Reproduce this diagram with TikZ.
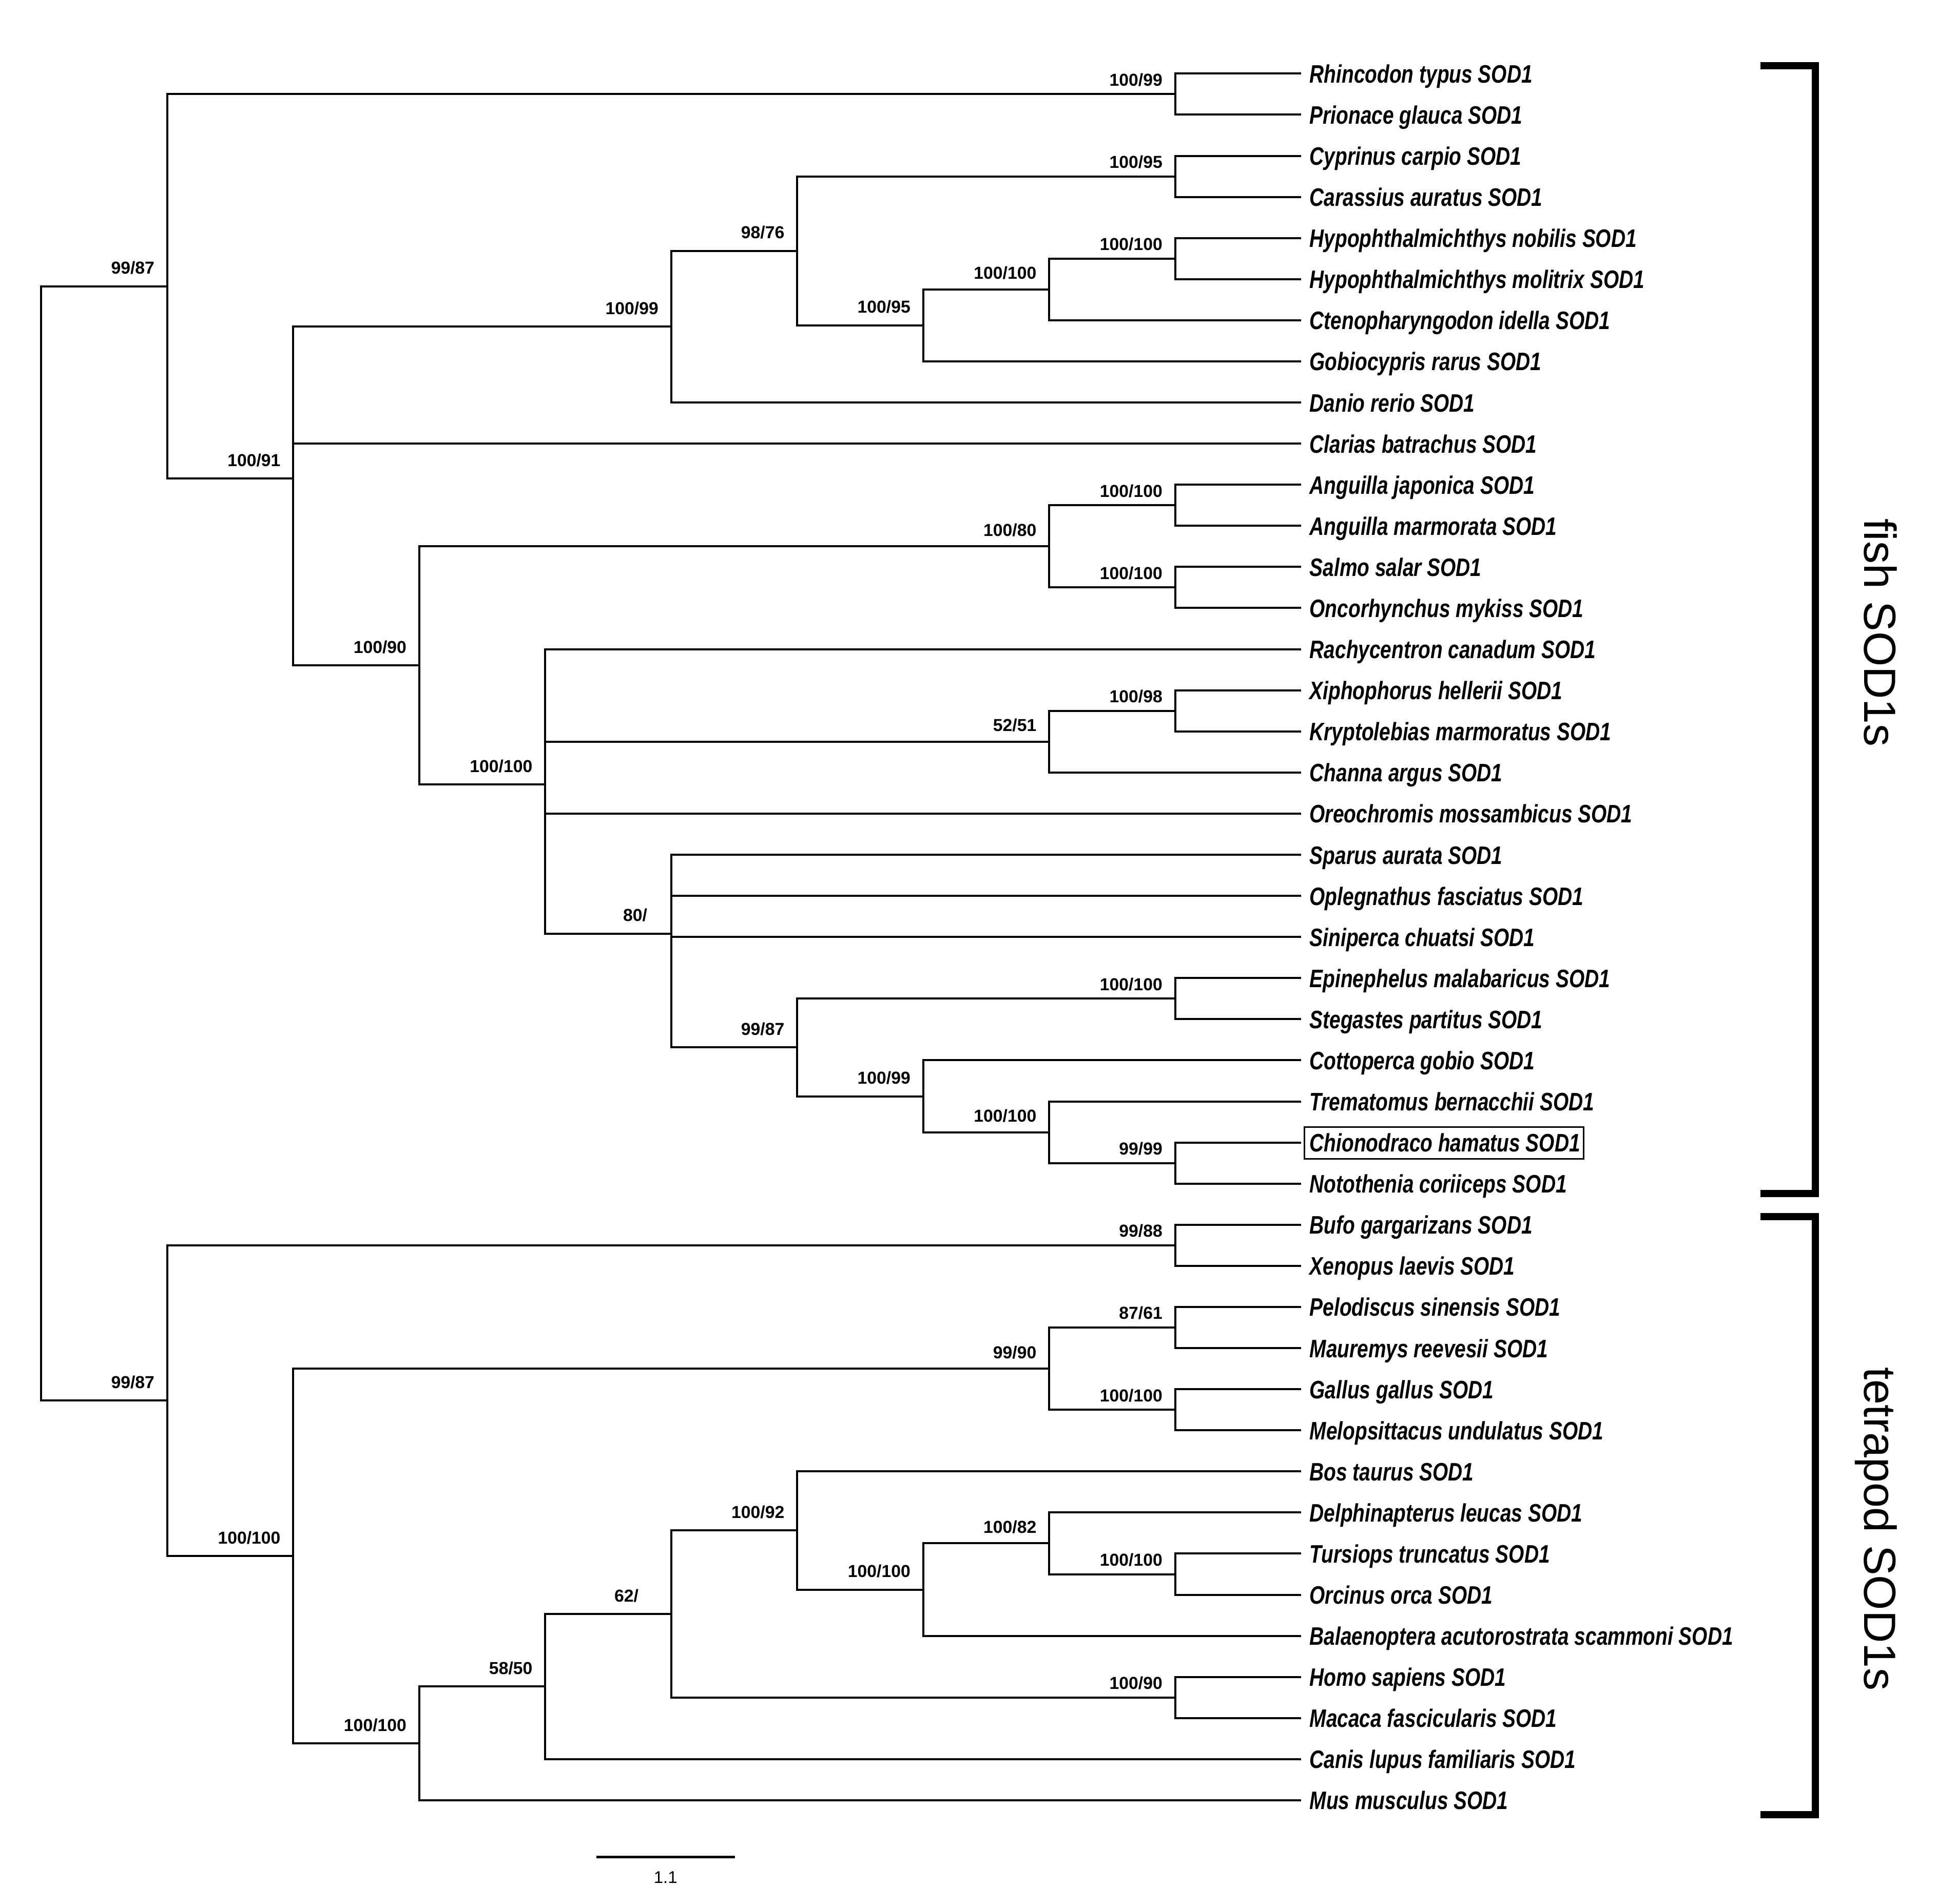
\documentclass[tikz,border=0pt]{standalone}
\usepackage{fontspec}
\setmainfont{Liberation Sans}
\newfontfamily\leaffont[FakeStretch=0.79]{Liberation Sans}
\usetikzlibrary{positioning, fit}
\tikzset{
	x=24.548mm, y=8.0085mm,
	branch/.style= {
		line width=0.4mm
	},
	leaf/.style= {
		anchor=base west, inner sep=0, xshift=1.6mm, yshift=-1.8mm,
		font={\leaffont\fontsize{14}{16}\selectfont\bfseries\itshape}
	},
	boot/.style= {
		anchor=base east, inner sep=0, xshift=-2.4mm, yshift=2.4mm,
		font={\fontsize{9.6}{11}\selectfont\bfseries}
	},
	tip/.style={yshift=-0.8mm},
	near/.style={yshift=-0.4mm},
	bracket/.style={line width=1.4mm},
	group/.style={rotate=-90, anchor=base, inner sep=0, font={\fontsize{25}{30}\selectfont}},
	frame/.style={line width=0.3mm},
	scalebar/.style={line width=0.5mm},
}
\newcommand{\leafnode}[3]{
\coordinate (#1) at (10,-#2);
\node(#1txt)[leaf] at (#1){#3 SOD1};
}
\newcommand{\bootnode}[3][]{
\node(#2boot)[boot,#1] at (#2){#3};
}

\begin{document}
\begin{tikzpicture}
	\useasboundingbox (-0.32673,0.79059) rectangle (15.198,-45.522);

	% leaves
	\leafnode{rhin}{1}{Rhincodon typus}
	\leafnode{prio}{2}{Prionace glauca}
	\leafnode{cypr}{3}{Cyprinus carpio}
	\leafnode{cara}{4}{Carassius auratus}
	\leafnode{hnob}{5}{Hypophthalmichthys nobilis}
	\leafnode{hmol}{6}{Hypophthalmichthys molitrix}
	\leafnode{cten}{7}{Ctenopharyngodon idella}
	\leafnode{gobi}{8}{Gobiocypris rarus}
	\leafnode{dani}{9}{Danio rerio}
	\leafnode{clar}{10}{Clarias batrachus}
	\leafnode{ajap}{11}{Anguilla japonica}
	\leafnode{amar}{12}{Anguilla marmorata}
	\leafnode{salm}{13}{Salmo salar}
	\leafnode{onco}{14}{Oncorhynchus mykiss}
	\leafnode{rach}{15}{Rachycentron canadum}
	\leafnode{xiph}{16}{Xiphophorus hellerii}
	\leafnode{kryp}{17}{Kryptolebias marmoratus}
	\leafnode{chan}{18}{Channa argus}
	\leafnode{oreo}{19}{Oreochromis mossambicus}
	\leafnode{spar}{20}{Sparus aurata}
	\leafnode{ople}{21}{Oplegnathus fasciatus}
	\leafnode{sini}{22}{Siniperca chuatsi}
	\leafnode{epin}{23}{Epinephelus malabaricus}
	\leafnode{steg}{24}{Stegastes partitus}
	\leafnode{cott}{25}{Cottoperca gobio}
	\leafnode{trem}{26}{Trematomus bernacchii}
	\leafnode{chio}{27}{Chionodraco hamatus}
	\leafnode{noto}{28}{Notothenia coriiceps}
	\leafnode{bufo}{29}{Bufo gargarizans}
	\leafnode{xeno}{30}{Xenopus laevis}
	\leafnode{pelo}{31}{Pelodiscus sinensis}
	\leafnode{maur}{32}{Mauremys reevesii}
	\leafnode{gall}{33}{Gallus gallus}
	\leafnode{melo}{34}{Melopsittacus undulatus}
	\leafnode{bost}{35}{Bos taurus}
	\leafnode{delp}{36}{Delphinapterus leucas}
	\leafnode{turs}{37}{Tursiops truncatus}
	\leafnode{orci}{38}{Orcinus orca}
	\leafnode{bala}{39}{Balaenoptera acutorostrata scammoni}
	\leafnode{homo}{40}{Homo sapiens}
	\leafnode{maca}{41}{Macaca fascicularis}
	\leafnode{cani}{42}{Canis lupus familiaris}
	\leafnode{musm}{43}{Mus musculus}

	\draw[frame] ([xshift=-1mm,yshift=-1.4mm]chiotxt.base west) rectangle ([xshift=0.6mm,yshift=1.2mm]chiotxt.north east);

	% internal nodes
	\coordinate (sharks) at (9,-1.5);
	\coordinate (carp) at (9,-3.5);
	\coordinate (hypo) at (9,-5.5);
	\coordinate (hypoct) at (8,-6.25);
	\coordinate (hypogo) at (7,-7.125);
	\coordinate (cyprini) at (6,-5.3125);
	\coordinate (cyprinif) at (5,-7.15625);
	\coordinate (eel) at (9,-11.5);
	\coordinate (salmon) at (9,-13.5);
	\coordinate (eelsalmon) at (8,-12.5);
	\coordinate (xipkry) at (9,-16.5);
	\coordinate (ovalent) at (8,-17.25);
	\coordinate (episte) at (9,-23.5);
	\coordinate (icefish) at (9,-27.5);
	\coordinate (antarc) at (8,-26.75);
	\coordinate (notot) at (7,-25.875);
	\coordinate (perci) at (6,-24.6875);
	\coordinate (percom) at (5,-21.921875);
	\coordinate (perco) at (4,-18.29297);
	\coordinate (eutel) at (3,-15.39648);
	\coordinate (teleo) at (2,-10.85091);
	\coordinate (fish) at (1,-6.17546);
	\coordinate (anura) at (9,-29.5);
	\coordinate (turtle) at (9,-31.5);
	\coordinate (bird) at (9,-33.5);
	\coordinate (sauria) at (8,-32.5);
	\coordinate (dolph) at (9,-37.5);
	\coordinate (odonto) at (8,-36.75);
	\coordinate (cetacea) at (7,-37.875);
	\coordinate (cetart) at (6,-36.4375);
	\coordinate (primate) at (9,-40.5);
	\coordinate (boreo) at (5,-38.46875);
	\coordinate (laura) at (4,-40.23438);
	\coordinate (mammal) at (3,-41.61719);
	\coordinate (amniota) at (2,-37.05859);
	\coordinate (tetra) at (1,-33.2793);
	\coordinate (root) at (0,-19.72738);

	% branches
	\draw[branch] (rhin) -| (sharks) |- (prio);
	\draw[branch] (cypr) -| (carp) |- (cara);
	\draw[branch] (hnob) -| (hypo) |- (hmol);
	\draw[branch] (hypo) -| (hypoct) |- (cten);
	\draw[branch] (hypoct) -| (hypogo) |- (gobi);
	\draw[branch] (carp) -| (cyprini) |- (hypogo);
	\draw[branch] (cyprini) -| (cyprinif) |- (dani);
	\draw[branch] (cyprinif) -| (teleo) |- (eutel);
	\draw[branch] (teleo |- clar) -- (clar);
	\draw[branch] (ajap) -| (eel) |- (amar);
	\draw[branch] (salm) -| (salmon) |- (onco);
	\draw[branch] (eel) -| (eelsalmon) |- (salmon);
	\draw[branch] (xiph) -| (xipkry) |- (kryp);
	\draw[branch] (xipkry) -| (ovalent) |- (chan);
	\draw[branch] (epin) -| (episte) |- (steg);
	\draw[branch] (chio) -| (icefish) |- (noto);
	\draw[branch] (trem) -| (antarc) |- (icefish);
	\draw[branch] (cott) -| (notot) |- (antarc);
	\draw[branch] (episte) -| (perci) |- (notot);
	\draw[branch] (spar) -| (percom) |- (perci);
	\draw[branch] (percom |- ople) -- (ople);
	\draw[branch] (percom |- sini) -- (sini);
	\draw[branch] (rach) -| (perco) |- (percom);
	\draw[branch] (perco |- ovalent) -- (ovalent);
	\draw[branch] (perco |- oreo) -- (oreo);
	\draw[branch] (eelsalmon) -| (eutel) |- (perco);
	\draw[branch] (sharks) -| (fish) |- (teleo);
	\draw[branch] (bufo) -| (anura) |- (xeno);
	\draw[branch] (pelo) -| (turtle) |- (maur);
	\draw[branch] (gall) -| (bird) |- (melo);
	\draw[branch] (turtle) -| (sauria) |- (bird);
	\draw[branch] (turs) -| (dolph) |- (orci);
	\draw[branch] (delp) -| (odonto) |- (dolph);
	\draw[branch] (odonto) -| (cetacea) |- (bala);
	\draw[branch] (bost) -| (cetart) |- (cetacea);
	\draw[branch] (homo) -| (primate) |- (maca);
	\draw[branch] (cetart) -| (boreo) |- (primate);
	\draw[branch] (boreo) -| (laura) |- (cani);
	\draw[branch] (laura) -| (mammal) |- (musm);
	\draw[branch] (sauria) -| (amniota) |- (mammal);
	\draw[branch] (anura) -| (tetra) |- (amniota);
	\draw[branch] (fish) -| (root) |- (tetra);

	% support values
	\bootnode[tip]{sharks}{100/99}
	\bootnode[tip]{carp}{100/95}
	\bootnode[tip]{hypo}{100/100}
	\bootnode[near]{hypoct}{100/100}
	\bootnode{hypogo}{100/95}
	\bootnode{cyprini}{98/76}
	\bootnode{cyprinif}{100/99}
	\bootnode{teleo}{100/91}
	\bootnode{fish}{99/87}
	\bootnode[tip]{eel}{100/100}
	\bootnode[tip]{salmon}{100/100}
	\bootnode[near]{eelsalmon}{100/80}
	\bootnode{eutel}{100/90}
	\bootnode[tip]{xipkry}{100/98}
	\bootnode[near]{ovalent}{52/51}
	\bootnode{perco}{100/100}
	\bootnode[xshift=-2.2mm]{percom}{80/}
	\bootnode[tip]{episte}{100/100}
	\bootnode{perci}{99/87}
	\bootnode{notot}{100/99}
	\bootnode[near]{antarc}{100/100}
	\bootnode[tip]{icefish}{99/99}
	\bootnode[tip]{anura}{99/88}
	\bootnode{tetra}{99/87}
	\bootnode[tip]{turtle}{87/61}
	\bootnode[near]{sauria}{99/90}
	\bootnode[tip]{bird}{100/100}
	\bootnode{amniota}{100/100}
	\bootnode{cetart}{100/92}
	\bootnode[near]{odonto}{100/82}
	\bootnode[tip]{dolph}{100/100}
	\bootnode{cetacea}{100/100}
	\bootnode[xshift=-3.9mm]{boreo}{62/}
	\bootnode{laura}{58/50}
	\bootnode[tip]{primate}{100/90}
	\bootnode{mammal}{100/100}

	% groups
	\coordinate (fishtop) at (13.646,-0.809);
	\coordinate (fishbot) at (13.646,-28.241);
	\coordinate (tettop) at (13.646,-28.803);
	\coordinate (tetbot) at (13.646,-43.349);
	\draw[bracket] (fishtop) -- ++(0.436,0) |- (fishbot);
	\draw[bracket] (tettop) -- ++(0.436,0) |- (tetbot);
	\node(fishlabel)[group] at (14.469,-14.6) {fish SOD1s};
	\node(tetlabel)[group] at (14.469,-36.4) {tetrapod SOD1s};

	% scale
	\coordinate (scaleleft) at (4.406,-44.375);
	\coordinate (scaleright) at (5.506,-44.375);
	\draw[scalebar] (scaleleft) -- (scaleright);
	\node(scalelabel)[anchor=base, inner sep=0, font={\fontsize{9.4}{11}\selectfont}] at (4.956,-45.02) {1.1};
\end{tikzpicture}
\end{document}
